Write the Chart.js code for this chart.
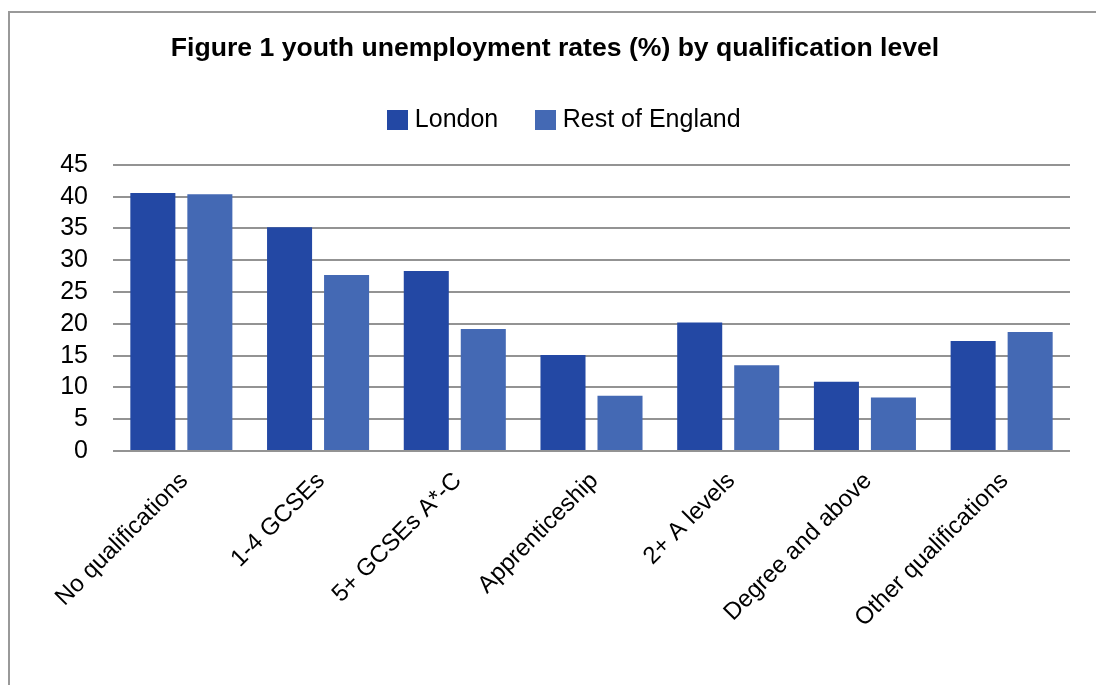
<!DOCTYPE html>
<html lang="en">
<head>
    <meta charset="UTF-8">
    <title>Youth unemployment by qualification</title>
    <script src="https://cdn.jsdelivr.net/npm/chart.js"></script>
    <style>
        body { margin: 0; background: #fff; }
        .frame {
            position: absolute; left: 8px; top: 11px; width: 1200px; height: 800px;
            border-left: 2px solid #999; border-top: 2px solid #999;
        }
        .chartbox { position: absolute; left: 0; top: 0; width: 1096px; height: 685px; }
    </style>
</head>
<body>
    <div class="frame"></div>
    <div class="chartbox">
        <canvas id="barChart" width="1096" height="685"></canvas>
    </div>
    <script>
        // qualification levels along the x axis
        var categories = ['No qualifications', '1-4 GCSEs', '5+ GCSEs A*-C', 'Apprenticeship',
            '2+ A levels', 'Degree and above', 'Other qualifications'];

        // unemployment rates (%)
        var londonRates = [40.6, 35.2, 28.3, 15.1, 20.2, 10.9, 17.3];
        var restOfEnglandRates = [40.4, 27.7, 19.2, 8.7, 13.5, 8.4, 18.7];

        var yTicks = [0, 5, 10, 15, 20, 25, 30, 35, 40, 45];

        var seriesColors = ['#2348a4', '#4469b4'];
        var fontFamily = '"Liberation Sans", Arial, sans-serif';

        // square legend swatches, a bit bigger than the default boxes
        function makeSwatch(color) {
            var c = document.createElement('canvas');
            c.width = 21;
            c.height = 20;
            var g = c.getContext('2d');
            g.fillStyle = color;
            g.fillRect(0, 0, 21, 20);
            return c;
        }
        var swatches = seriesColors.map(makeSwatch);

        // make room under the legend and nudge it right like the original
        var legendTweak = {
            id: 'legendTweak',
            beforeInit: function (chart) {
                var origFit = chart.legend.fit;
                chart.legend.fit = function () {
                    origFit.bind(chart.legend)();
                    this.height = 100;
                };
            },
            afterLayout: function (chart) {
                chart.legend.left += 12;
                chart.legend.right += 12;
            }
        };

        var ctx = document.getElementById('barChart').getContext('2d');
        var chart = new Chart(ctx, {
            type: 'bar',
            data: {
                labels: categories,
                datasets: [{
                    label: 'London',
                    data: londonRates,
                    backgroundColor: seriesColors[0]
                }, {
                    label: 'Rest of England',
                    data: restOfEnglandRates,
                    backgroundColor: seriesColors[1]
                }]
            },
            plugins: [legendTweak],
            options: {
                responsive: false,
                animation: false,
                categoryPercentage: 0.834,
                barPercentage: 0.79,
                layout: { padding: { left: 40, right: 26, top: 0, bottom: 0 } },
                plugins: {
                    title: {
                        display: true,
                        text: 'Figure 1 youth unemployment rates (%) by qualification level',
                        color: '#000',
                        font: { family: fontFamily, size: 26.6, weight: 'bold' },
                        padding: { top: 33, bottom: 0 }
                    },
                    legend: {
                        display: true,
                        labels: {
                            color: '#000',
                            font: { family: fontFamily, size: 25 },
                            usePointStyle: true,
                            boxWidth: 9,
                            padding: 43,
                            generateLabels: function (chart) {
                                var items = Chart.defaults.plugins.legend.labels.generateLabels(chart);
                                items.forEach(function (item, i) {
                                    item.pointStyle = swatches[i];
                                });
                                return items;
                            }
                        }
                    },
                    tooltip: { enabled: false }
                },
                scales: {
                    x: {
                        grid: { display: false },
                        border: { display: false },
                        ticks: {
                            color: '#000',
                            font: { family: fontFamily, size: 24 },
                            minRotation: 45,
                            maxRotation: 45,
                            autoSkip: false,
                            padding: 8,
                            labelOffset: 3
                        },
                        afterFit: function (scale) { scale.height = 234; }
                    },
                    y: {
                        min: 0,
                        max: 45,
                        afterBuildTicks: function (scale) {
                            scale.ticks = yTicks.map(function (v) { return { value: v }; });
                        },
                        grid: { color: '#939393', lineWidth: 2, drawTicks: false },
                        border: { display: false },
                        ticks: {
                            color: '#000',
                            font: { family: fontFamily, size: 25 },
                            autoSkip: false,
                            padding: 25
                        },
                        afterFit: function (scale) { scale.width = 73; }
                    }
                }
            }
        });
    </script>
</body>
</html>
